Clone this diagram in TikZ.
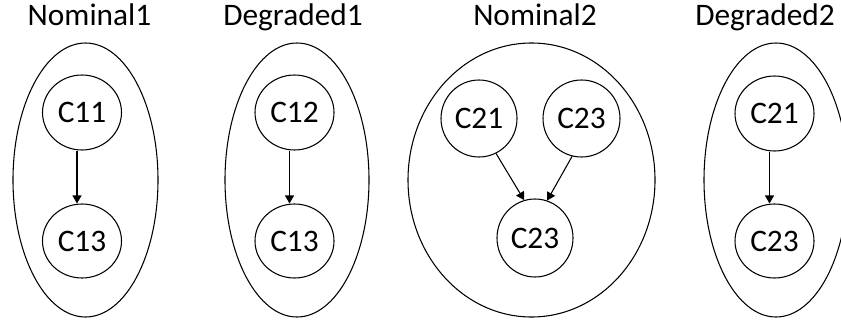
\documentclass[tikz,border=0pt]{standalone}
\usepackage{fontspec}
\setmainfont{Carlito}
\usetikzlibrary{shapes.geometric,arrows.meta}
\newlength{\pxu}
\setlength{\pxu}{0.75pt}
\tikzset{
  grp/.style={draw, ellipse, line width=0.8pt, inner sep=0pt},
  comp/.style={draw, ellipse, line width=0.8pt, inner sep=0pt, font=\fontsize{23.5pt}{28pt}\selectfont},
  ttl/.style={anchor=base, inner sep=0pt, font=\fontsize{23.5pt}{28pt}\selectfont},
  arr/.style={line width=0.8pt, -{Triangle[length=6pt, width=6.75pt]}}
}
\begin{document}
\begin{tikzpicture}[x=0.75pt, y=-0.75pt]
\useasboundingbox (0,0) rectangle (841,321);
\clip (0,0) rectangle (841,321);
% titles
\node[ttl] (t1) at (89.5,26) {Nominal1};
\node[ttl] (t2) at (293,26) {Degraded1};
\node[ttl] (t3) at (535,26) {Nominal2};
\node[ttl] (t4) at (765,26) {Degraded2};
% groups
\node[grp, minimum width=145\pxu, minimum height=274\pxu] (g1) at (85.5,180) {};
\node[grp, minimum width=144\pxu, minimum height=274\pxu] (g2) at (297,180) {};
\node[grp, minimum width=247\pxu, minimum height=274\pxu] (g3) at (531.5,180) {};
\node[grp, minimum width=144\pxu, minimum height=274\pxu] (g4) at (776,180) {};
% components
\node[comp, minimum width=79\pxu, minimum height=75\pxu] (c11) at (82,112.5) {C11};
\node[comp, minimum width=79\pxu, minimum height=74\pxu] (c13a) at (82,241) {C13};
\node[comp, minimum width=79\pxu, minimum height=75\pxu] (c12) at (294.5,112.5) {C12};
\node[comp, minimum width=79\pxu, minimum height=74\pxu] (c13b) at (294.5,241) {C13};
\node[comp, minimum width=76\pxu, minimum height=77\pxu] (c21a) at (479,118.5) {C21};
\node[comp, minimum width=77\pxu, minimum height=77\pxu] (c23a) at (581.5,118.5) {C23};
\node[comp, minimum width=76\pxu, minimum height=78\pxu] (c23b) at (535,238) {C23};
\node[comp, minimum width=79\pxu, minimum height=75\pxu] (c21b) at (774.5,113.5) {C21};
\node[comp, minimum width=79\pxu, minimum height=74\pxu] (c23c) at (774.5,241) {C23};
% connectors
\draw[arr] ([xshift=-3.75pt]c11.south) -- ([xshift=-3.75pt]c13a.north);
\draw[arr] ([xshift=-3.75pt]c12.south) -- ([xshift=-3.75pt]c13b.north);
\draw[arr] (c21a.-64) -- (c23b.106);
\draw[arr] (c23a.-104) -- (c23b.72);
\draw[arr] ([xshift=-3.75pt]c21b.south) -- ([xshift=-3.75pt]c23c.north);
\end{tikzpicture}
\end{document}
